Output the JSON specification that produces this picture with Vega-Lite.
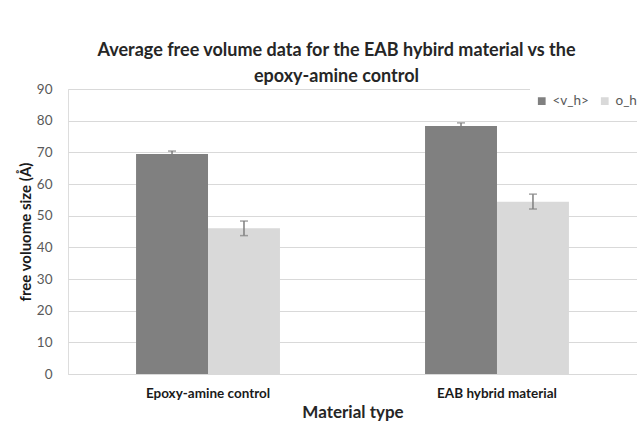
{
  "$schema": "https://vega.github.io/schema/vega-lite/v6.json",
  "width": 569,
  "height": 285,
  "autosize": {"type": "none"},
  "padding": {"left": 68, "top": 89, "right": 0, "bottom": 47},
  "background": "white",
  "config": {
    "axisY": {
      "labelOverlap": false,
      "titleFont": "Lato",
      "titleFontSize": 15,
      "titleFontWeight": "bold",
      "titleColor": "#1a1a1a",
      "titlePadding": 3,
      "labelFont": "Lato",
      "labelFontSize": 13.5,
      "labelColor": "#595959",
      "labelPadding": 16,
      "ticks": false,
      "domain": false,
      "gridColor": "#d9d9d9",
      "gridWidth": 1
    }
  },
  "title": {
    "text": ["Average free volume data for the EAB hybird material vs the", "epoxy-amine control"],
    "font": "Lato",
    "fontSize": 18,
    "fontWeight": "bold",
    "color": "#262626",
    "anchor": "middle",
    "frame": "group",
    "dx": -16,
    "dy": 5,
    "offset": 1,
    "lineHeight": 26
  },
  "data": {
    "values": [
      {"material": "Epoxy-amine control", "series": "<v_h>", "value": 69.5, "lo": 68.6, "hi": 70.4},
      {"material": "Epoxy-amine control", "series": "o_h", "value": 46.0, "lo": 43.7, "hi": 48.3},
      {"material": "EAB hybrid material", "series": "<v_h>", "value": 78.3, "lo": 77.3, "hi": 79.3},
      {"material": "EAB hybrid material", "series": "o_h", "value": 54.4, "lo": 52.1, "hi": 56.8}
    ]
  },
  "encoding": {
    "x": {
      "field": "material",
      "type": "nominal",
      "sort": ["Epoxy-amine control", "EAB hybrid material"],
      "scale": {"paddingInner": 0.502, "paddingOuter": 0.2355},
      "axis": {
        "title": "Material type",
        "titleFont": "Lato",
        "titleFontSize": 17,
        "titleFontWeight": "bold",
        "titleColor": "#262626",
        "titlePadding": 5,
        "labelFont": "Lato",
        "labelFontSize": 13.5,
        "labelFontWeight": "bold",
        "labelColor": "#1a1a1a",
        "labelPadding": 12,
        "labelAngle": 0,
        "ticks": false,
        "domainColor": "#d9d9d9",
        "domainWidth": 1
      }
    },
    "xOffset": {"field": "series", "type": "nominal", "sort": ["<v_h>", "o_h"]}
  },
  "layer": [
    {
      "mark": {"type": "bar"},
      "encoding": {
        "y": {
          "field": "value",
          "type": "quantitative",
          "scale": {"domain": [0, 90], "nice": false},
          "axis": {"values": [0, 10, 20, 30, 40, 50, 60, 70, 80, 90], "title": "free voluome size (Å)"}
        },
        "color": {
          "field": "series",
          "type": "nominal",
          "scale": {"domain": ["<v_h>", "o_h"], "range": ["#808080", "#d9d9d9"]},
          "legend": {
            "title": null,
            "orient": "none",
            "legendX": 462,
            "legendY": 0,
            "direction": "horizontal",
            "fillColor": "white",
            "padding": 5,
            "symbolType": "square",
            "symbolSize": 60,
            "symbolStrokeWidth": 0,
            "labelFont": "Lato",
            "labelFontSize": 13.5,
            "labelColor": "#595959",
            "columnPadding": 9
          }
        }
      }
    },
    {
      "mark": {"type": "rule", "color": "#7f7f7f", "strokeWidth": 1.5},
      "encoding": {
        "y": {"field": "lo", "type": "quantitative", "axis": {"values": [0, 10, 20, 30, 40, 50, 60, 70, 80, 90], "title": "free voluome size (Å)"}},
        "y2": {"field": "hi"}
      }
    },
    {
      "mark": {"type": "tick", "color": "#7f7f7f", "size": 8, "thickness": 1.5},
      "encoding": {"y": {"field": "lo", "type": "quantitative", "axis": {"values": [0, 10, 20, 30, 40, 50, 60, 70, 80, 90], "title": "free voluome size (Å)"}}}
    },
    {
      "mark": {"type": "tick", "color": "#7f7f7f", "size": 8, "thickness": 1.5},
      "encoding": {"y": {"field": "hi", "type": "quantitative", "axis": {"values": [0, 10, 20, 30, 40, 50, 60, 70, 80, 90], "title": "free voluome size (Å)"}}}
    }
  ]
}
